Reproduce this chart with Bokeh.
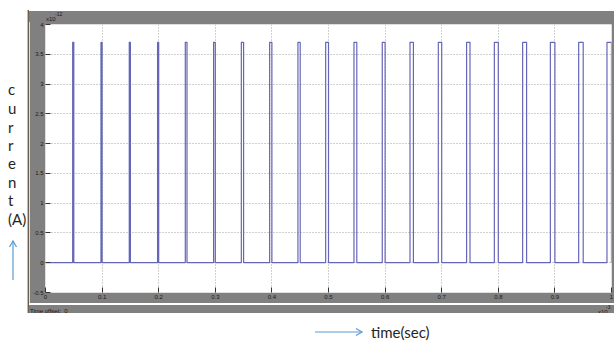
from bokeh.plotting import figure
from bokeh.models import FixedTicker, Range1d, Div, Spacer
from bokeh.layouts import row, column
from bokeh.embed import file_html
from bokeh.resources import INLINE

# ---------------- data (time in x1e-3 s, current in x1e-12 A) ----------------
pulse_times = [0.05, 0.10, 0.15, 0.20, 0.25, 0.30, 0.35, 0.40, 0.45, 0.50,
               0.55, 0.60, 0.65, 0.70, 0.75, 0.80, 0.85, 0.90, 0.95, 1.00]
pulse_widths = [0.002, 0.002, 0.002, 0.002, 0.003, 0.003, 0.004, 0.004, 0.004, 0.005,
                0.005, 0.005, 0.006, 0.006, 0.006, 0.007, 0.007, 0.008, 0.008, 0.008]
pulse_peak = 3.7
baseline = 0.0

x_ticks = [0, 0.1, 0.2, 0.3, 0.4, 0.5, 0.6, 0.7, 0.8, 0.9, 1]
x_tick_labels = ["0", "0.1", "0.2", "0.3", "0.4", "0.5", "0.6", "0.7", "0.8", "0.9", "1"]
y_ticks = [-0.5, 0, 0.5, 1, 1.5, 2, 2.5, 3, 3.5, 4]
y_tick_labels = ["-0.5", "0", "0.5", "1", "1.5", "2", "2.5", "3", "3.5", "4"]

y_caption_letters = ["c", "u", "r", "r", "e", "n", "t", "(A)"]
x_caption = "time(sec)"

# ---------------- layout constants ----------------
GREY = "#808080"
LEFT_W = 29           # white strip left of the scope window
RIGHT_W = 614 - LEFT_W
TOP_WHITE = 10
TOP_GREY = 11
FIG_H = 282
BOT_GREY = 10
BOT_WHITE = 341 - TOP_WHITE - TOP_GREY - FIG_H - BOT_GREY
NOMARGIN = (0, 0, 0, 0)

p = figure(width=RIGHT_W, height=FIG_H, x_range=Range1d(0, 1), y_range=Range1d(-0.5, 4),
           output_backend="svg", toolbar_location=None,
           min_border_left=16, min_border_right=3, min_border_top=3,
           min_border_bottom=FIG_H - 3 - 268,
           border_fill_color=GREY, background_fill_color="white",
           outline_line_color=None, margin=NOMARGIN)

xs = [0]
ys = [baseline]
for t, w in zip(pulse_times, pulse_widths):
    xs += [t - w, t - w, t, t]
    ys += [baseline, pulse_peak, pulse_peak, baseline]
p.line(xs, ys, line_color="#6666b8", line_width=1.2)

tick_font = "Liberation Sans"
for ax in (p.xaxis[0], p.yaxis[0]):
    ax.axis_line_color = None
    ax.major_tick_in = 5
    ax.major_tick_out = 0
    ax.minor_tick_line_color = None
    ax.major_tick_line_color = "#333333"
    ax.major_label_text_font = tick_font
    ax.major_label_text_font_size = "6px"
    ax.major_label_text_color = "#1a1a1a"
    ax.major_label_standoff = 2

p.xaxis.ticker = FixedTicker(ticks=x_ticks)
p.xaxis.major_label_overrides = dict(zip(x_ticks, x_tick_labels))
p.yaxis.ticker = FixedTicker(ticks=y_ticks)
p.yaxis.major_label_overrides = dict(zip(y_ticks, y_tick_labels))

p.xgrid.ticker = FixedTicker(ticks=x_ticks)
p.ygrid.ticker = FixedTicker(ticks=y_ticks)
for g in (p.xgrid[0], p.ygrid[0]):
    g.grid_line_color = "#a0a0a0"
    g.grid_line_dash = "1 2"
    g.grid_line_width = 1

# ---------------- surrounding page (HTML) ----------------
SMALL = "font-family:'Liberation Sans';color:#1a1a1a;position:absolute;white-space:nowrap;"

top_grey = Div(width=RIGHT_W, height=TOP_GREY, margin=NOMARGIN, text=(
    f'<div style="position:relative;width:{RIGHT_W}px;height:{TOP_GREY}px;background:{GREY};">'
    f'<span style="{SMALL}left:17px;top:5px;font-size:6px;line-height:6px;">x10</span>'
    f'<span style="{SMALL}left:26px;top:1px;font-size:5px;line-height:5px;">-12</span>'
    '</div>'))

bot_grey = Div(width=RIGHT_W, height=BOT_GREY, margin=NOMARGIN, text=(
    f'<div style="position:relative;width:{RIGHT_W}px;height:{BOT_GREY}px;background:{GREY};">'
    f'<span style="{SMALL}left:1px;top:3px;font-size:6px;line-height:6px;">Time offset:&nbsp;&nbsp;0</span>'
    f'<span style="{SMALL}left:569px;top:4px;font-size:6px;line-height:6px;">x10</span>'
    f'<span style="{SMALL}left:577px;top:0px;font-size:5px;line-height:5px;">-3</span>'
    '</div>'))

ARROW = "#5b9bd5"
LEFT_H = TOP_WHITE + TOP_GREY + FIG_H + BOT_GREY
letter_y = [89, 108, 127, 145, 163, 182, 200, 219]
spans = "".join(
    f'<span style="position:absolute;left:8px;top:{yy - 9}px;line-height:18px;'
    f'font-family:Lato;font-size:15px;color:#262626;white-space:nowrap;">{ch}</span>'
    for ch, yy in zip(y_caption_letters, letter_y))
left_svg = (
    f'<svg style="position:absolute;left:0;top:0;" width="{LEFT_W}" height="{LEFT_H}">'
    f'<line x1="28.3" y1="{TOP_WHITE}" x2="28.3" y2="{LEFT_H}" stroke="#6b5d50" stroke-width="1.4"/>'
    f'<line x1="13" y1="280" x2="13" y2="241" stroke="{ARROW}" stroke-width="1.2"/>'
    f'<polyline points="9.5,247 13,241 16.5,247" fill="none" stroke="{ARROW}" stroke-width="1.2"/>'
    '</svg>')
left_div = Div(width=LEFT_W, height=LEFT_H, margin=NOMARGIN, text=(
    f'<div style="position:relative;width:{LEFT_W}px;height:{LEFT_H}px;background:white;">'
    f'{left_svg}{spans}</div>'))

ay = 332 - LEFT_H
bottom_div = Div(width=614, height=BOT_WHITE, margin=NOMARGIN, text=(
    f'<div style="position:relative;width:614px;height:{BOT_WHITE}px;background:white;">'
    f'<svg style="position:absolute;left:0;top:0;" width="614" height="{BOT_WHITE}">'
    f'<line x1="315" y1="{ay}" x2="362" y2="{ay}" stroke="{ARROW}" stroke-width="1.2"/>'
    f'<polyline points="356,{ay - 3.5} 362,{ay} 356,{ay + 3.5}" fill="none" stroke="{ARROW}" stroke-width="1.2"/>'
    '</svg>'
    f'<span style="position:absolute;left:371px;top:{ay - 10}px;line-height:20px;'
    f'font-family:Lato;font-size:15px;color:#262626;white-space:nowrap;">{x_caption}</span>'
    '</div>'))

right_col = column(Spacer(width=RIGHT_W, height=TOP_WHITE, margin=NOMARGIN),
                   top_grey, p, bot_grey, spacing=0, margin=NOMARGIN)
layout = column(row(left_div, right_col, spacing=0, margin=NOMARGIN), bottom_div,
                spacing=0, margin=NOMARGIN)

open("out.html", "w").write(file_html(layout, INLINE))
